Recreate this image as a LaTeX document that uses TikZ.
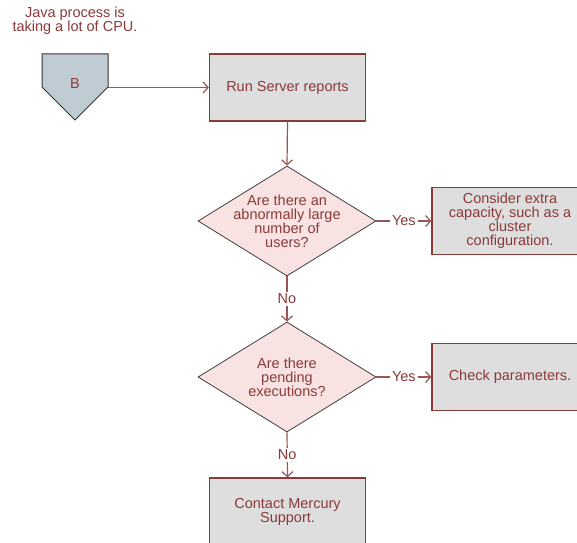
\documentclass[tikz,border=0pt]{standalone}
\usepackage{fontspec}
\setmainfont{Liberation Sans}
\usetikzlibrary{shapes.geometric,arrows.meta}
\definecolor{txtred}{RGB}{139,58,58}
\definecolor{linered}{RGB}{155,85,85}
\definecolor{boxgray}{RGB}{222,222,222}
\definecolor{diapink}{RGB}{248,226,226}
\definecolor{pentblue}{RGB}{192,204,212}
\tikzset{
  every node/.style={text=txtred,font=\fontsize{14.5}{14}\selectfont},
  stepbox/.style={draw=txtred,line width=1.2pt,fill=boxgray,minimum width=156pt,minimum height=67pt,align=center},
  decision/.style={diamond,draw=black!75,line width=0.8pt,fill=diapink,minimum width=178pt,minimum height=110pt,inner sep=0pt},
  flow/.style={draw=linered,line width=1.2pt,-{Straight Barb[length=5pt,width=11pt]}},
  tag/.style={fill=white,inner sep=2pt}
}
\begin{document}
\begin{tikzpicture}[x=1pt,y=1pt]
  \useasboundingbox (0,0) rectangle (577,542);
  \clip (0,0) rectangle (577,542);
  % off-page marker
  \node[align=center] (title) at (75,521) {Java process is\\taking a lot of CPU.};
  \draw[draw=black!80,line width=1pt,fill=pentblue] (42,488) -- (108,488) -- (108,455) -- (75,422) -- (42,455) -- cycle;
  \coordinate (bout) at (108,454.5);
  \node (B) at (75,458) {B};
  % steps and decisions
  \node[stepbox] (run) at (287.5,454.5) {Run Server reports};
  \node[decision] (users) at (287,321) {};
  \node[align=center] (userstxt) at (users) {Are there an\\abnormally large\\number of\\users?};
  \node[stepbox] (extra) at (510,321) {Consider extra\\capacity, such as a\\cluster\\configuration.};
  \node[decision] (pending) at (287,165) {};
  \node[align=center] (pendingtxt) at (pending) {Are there\\pending\\executions?};
  \node[stepbox] (params) at (510,165) {Check parameters.};
  \node[stepbox] (support) at (287.5,30.5) {Contact Mercury\\Support.};
  % connectors
  \draw[flow] (bout) -- (run.west);
  \draw[flow] (run.south) -- (users.north);
  \draw[flow] (users.east) -- node[tag] {Yes} (extra.west);
  \draw[flow] (users.south) -- node[tag] {No} (pending.north);
  \draw[flow] (pending.east) -- node[tag] {Yes} (params.west);
  \draw[flow] (pending.south) -- node[tag] {No} (support.north);
\end{tikzpicture}
\end{document}
